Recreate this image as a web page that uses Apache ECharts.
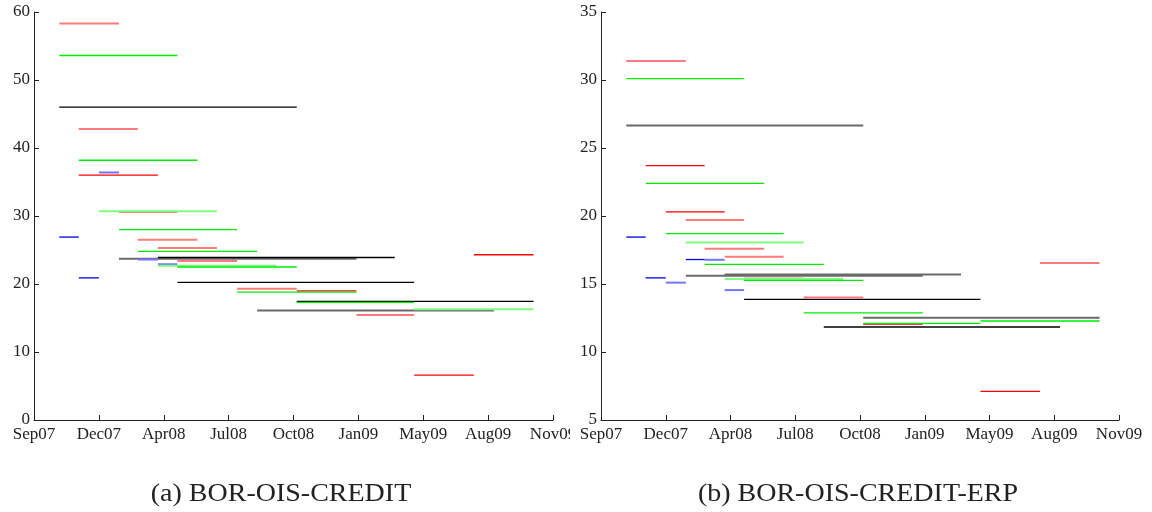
<!DOCTYPE html>
<html><head><meta charset="utf-8">
<script src="https://cdn.jsdelivr.net/npm/echarts/dist/echarts.min.js"></script>
<style>
html,body{margin:0;padding:0;background:#fff;width:1152px;height:512px;overflow:hidden}
#a{position:absolute;left:0;top:0;width:570px;height:512px;overflow:hidden}
#b{position:absolute;left:570px;top:0;width:582px;height:512px;overflow:hidden}
</style></head><body><div id="a"></div><div id="b"></div>
<script>
// ---- data ----
const tickLabels = ['Sep07','Dec07','Apr08','Jul08','Oct08','Jan09','May09','Aug09','Nov09'];
const captionA = '(a) BOR-OIS-CREDIT';
const captionB = '(b) BOR-OIS-CREDIT-ERP';

// segments: [start month, end month, value]
const leftRed = [['2007-12','2008-04',36.0],['2008-11','2009-02',19.0],['2009-08','2009-11',24.3],['2009-05','2009-08',6.6]];
const leftRedLight = [['2007-11','2008-02',58.3],['2007-12','2008-03',42.8],['2008-02','2008-05',30.6],['2008-03','2008-06',26.5],['2008-04','2008-07',25.3],['2008-05','2008-08',23.4],['2008-08','2008-11',19.3],['2009-02','2009-05',15.45]];
const leftGreen = [['2007-11','2008-05',53.6],['2007-12','2008-06',38.2],['2008-02','2008-08',28.0],['2008-03','2008-09',24.8],['2008-05','2008-11',22.5],['2008-08','2009-02',18.8],['2008-11','2009-05',17.3]];
const leftGreenLight = [['2008-01','2008-07',30.7],['2008-04','2008-10',22.7],['2009-05','2009-11',16.3]];
const leftBlue = [['2007-11','2007-12',26.9],['2007-12','2008-01',20.9]];
const leftBlueLight = [['2008-01','2008-02',36.4],['2008-03','2008-04',23.6],['2008-04','2008-05',22.9]];
const leftBlack = [['2007-11','2008-11',46.0],['2008-04','2009-04',23.9],['2008-05','2009-05',20.25],['2008-11','2009-11',17.45]];
const leftGray = [['2008-02','2009-02',23.7],['2008-09','2009-09',16.1]];

const rightRed = [['2007-12','2008-03',23.7],['2008-01','2008-04',20.3],['2008-05','2008-08',15.42],['2008-11','2009-02',12.05],['2009-05','2009-08',7.1]];
const rightRedLight = [['2007-11','2008-02',31.4],['2008-02','2008-05',19.7],['2008-03','2008-06',17.6],['2008-04','2008-07',17.0],['2008-08','2008-11',14.0],['2009-08','2009-11',16.55]];
const rightGreen = [['2007-11','2008-05',30.1],['2007-12','2008-06',22.4],['2008-01','2008-07',18.7],['2008-03','2008-09',16.45],['2008-05','2008-11',15.27],['2008-08','2009-02',12.87],['2009-05','2009-11',12.28],['2008-11','2009-05',12.1]];
const rightGreenLight = [['2008-02','2008-08',18.05],['2008-04','2008-10',15.37]];
const rightBlue = [['2007-11','2007-12',18.45],['2008-02','2008-03',16.8],['2007-12','2008-01',15.45]];
const rightBlueLight = [['2008-03','2008-04',16.78],['2008-01','2008-02',15.1],['2008-04','2008-05',14.55]];
const rightBlack = [['2008-05','2009-05',13.87],['2008-09','2009-09',11.84]];
const rightGray = [['2007-11','2008-11',26.65],['2008-02','2009-02',15.6],['2008-04','2009-04',15.7],['2008-11','2009-11',12.52]];

// ---- styles ----
const axisOrigin = Date.UTC(2007, 8, 23);
const tickDays = 100;
const FONT = '"Liberation Serif","DejaVu Serif",serif';
const styles = {
  gray:{color:'#6a6a6a',width:2},
  black:{color:'#000000',width:1.3},
  redLight:{color:'#ff7a7a',width:2},
  red:{color:'#ff0000',width:1.3},
  blueLight:{color:'#7474ff',width:2},
  blue:{color:'#0000e6',width:1.3},
  greenLight:{color:'#7dff7d',width:2},
  green:{color:'#00ee00',width:1.3}
};

function toDay(s){const p=s.split('-').map(Number);return (Date.UTC(p[0],p[1]-1,1)-axisOrigin)/86400000;}
function buildSeries(groups){
  const out=[];
  groups.forEach(([key,segs])=>{
    segs.forEach(seg=>{
      out.push({type:'line',silent:true,animation:false,symbol:'none',showSymbol:false,clip:false,
        data:[[toDay(seg[0]),seg[2]],[toDay(seg[1]),seg[2]]],
        lineStyle:{color:styles[key].color,width:styles[key].width}});
    });
  });
  return out;
}
function makeOption(gridLeft,gridRight,ymin,ymax,ystep,series,caption,capX){
  return {
    animation:false,
    grid:{left:gridLeft,right:gridRight,top:12,bottom:92,containLabel:false,outerBoundsMode:'none'},
    xAxis:{type:'value',min:0,max:tickDays*(tickLabels.length-1),interval:tickDays,
      axisLine:{show:true,lineStyle:{color:'#222',width:1}},
      axisTick:{show:true,inside:true,length:5,lineStyle:{color:'#222'}},
      axisLabel:{formatter:v=>tickLabels[Math.round(v/tickDays)],color:'#222',fontFamily:FONT,fontSize:17,margin:6,showMinLabel:true,showMaxLabel:true,hideOverlap:false},
      splitLine:{show:false}},
    yAxis:{type:'value',min:ymin,max:ymax,interval:ystep,
      axisLine:{show:true,lineStyle:{color:'#222',width:1}},
      axisTick:{show:true,inside:true,length:5,lineStyle:{color:'#222'}},
      axisLabel:{color:'#222',fontFamily:FONT,fontSize:17,margin:4,showMinLabel:true,showMaxLabel:true},
      splitLine:{show:false}},
    graphic:[{type:'text',x:capX,y:494,scaleX:1.12,style:{text:caption,font:'25px '+FONT,fill:'#222',textAlign:'center',textVerticalAlign:'middle'}}],
    series:series
  };
}
const seriesA = buildSeries([['gray',leftGray],['black',leftBlack],['redLight',leftRedLight],['red',leftRed],['blueLight',leftBlueLight],['blue',leftBlue],['greenLight',leftGreenLight],['green',leftGreen]]);
const seriesB = buildSeries([['gray',rightGray],['black',rightBlack],['redLight',rightRedLight],['red',rightRed],['blueLight',rightBlueLight],['blue',rightBlue],['greenLight',rightGreenLight],['green',rightGreen]]);
echarts.init(document.getElementById('a'),null,{renderer:'canvas'}).setOption(makeOption(34,17,0,60,10,seriesA,captionA,281));
echarts.init(document.getElementById('b'),null,{renderer:'canvas'}).setOption(makeOption(31,33,5,35,5,seriesB,captionB,288));
</script></body></html>
